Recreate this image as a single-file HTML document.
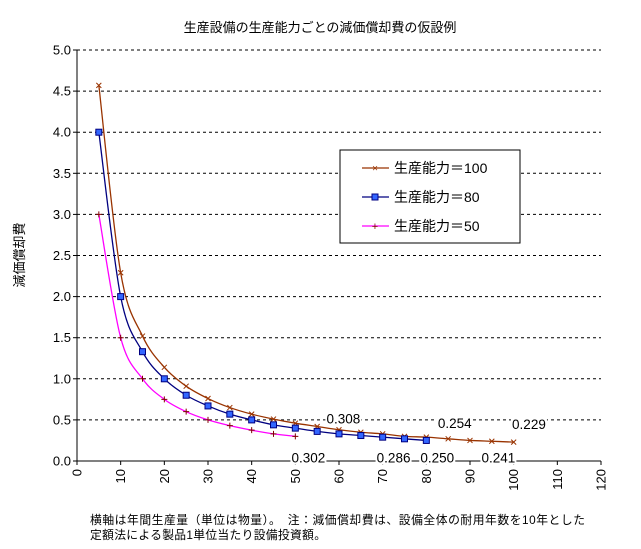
<!DOCTYPE html>
<html><head><meta charset="utf-8"><style>
body{margin:0;background:#fff;}
svg{display:block;font-family:"Liberation Sans","Noto Sans CJK JP",sans-serif;}
</style></head><body>
<svg id="chart" width="641" height="549" viewBox="0 0 641 549">
<text x="320" y="32" text-anchor="middle" font-size="13">生産設備の生産能力ごとの減価償却費の仮設例</text>
<g id="grid"></g>
<g id="axes"></g>
<g id="series"></g>
<g id="labels"></g>
<text transform="translate(24,255) rotate(-90)" text-anchor="middle" font-size="13">減価償却費</text>
<text x="90" y="524" font-size="11.8" textLength="495">横軸は年間生産量（単位は物量）。　注：減価償却費は、設備全体の耐用年数を10年とした</text>
<text x="90" y="539" font-size="11.8" textLength="236">定額法による製品1単位当たり設備投資額。</text>
<g>
<rect x="340" y="150" width="180" height="93" fill="#fff" stroke="#000" stroke-width="1"/>
<line x1="362" y1="168" x2="389" y2="168" stroke="#993300" stroke-width="1.3"/>
<text x="375" y="171.5" font-size="10" fill="#993300" text-anchor="middle">×</text>
<text x="394" y="173" font-size="14">生産能力＝100</text>
<line x1="362" y1="197" x2="389" y2="197" stroke="#000080" stroke-width="1.3"/>
<rect x="372" y="194" width="6" height="6" fill="#3366ff" stroke="#000080"/>
<text x="394" y="202" font-size="14">生産能力＝80</text>
<line x1="362" y1="226" x2="389" y2="226" stroke="#ff00ff" stroke-width="1.3"/>
<text x="375" y="230" font-size="11" fill="#800000" text-anchor="middle">+</text>
<text x="394" y="231" font-size="14">生産能力＝50</text>
</g>
</svg>
<script>
const xTicks=[0,10,20,30,40,50,60,70,80,90,100,110,120];
const yTicks=[0,0.5,1,1.5,2,2.5,3,3.5,4,4.5,5];
const x100=[5,10,15,20,25,30,35,40,45,50,55,60,65,70,75,80,85,90,95,100];
const v100=[4.57,2.29,1.52,1.14,0.91,0.76,0.65,0.57,0.51,0.46,0.42,0.38,0.35,0.33,0.30,0.29,0.27,0.25,0.24,0.23];
const x80=[5,10,15,20,25,30,35,40,45,50,55,60,65,70,75,80];
const v80=[4.0,2.0,1.33,1.0,0.8,0.67,0.57,0.5,0.44,0.4,0.36,0.33,0.31,0.29,0.27,0.25];
const x50=[5,10,15,20,25,30,35,40,45,50];
const v50=[3.0,1.5,1.0,0.75,0.6,0.5,0.43,0.375,0.33,0.30];
const labelText=["0.308","0.254","0.229","0.302","0.286","0.250","0.241"];
const labelX=[61,86.5,103.5,53,72.5,82.5,96.5];
const labelY=[0.52,0.46,0.45,0.04,0.04,0.04,0.04];

const X0=77,X1=601,Y0=461,Y1=50;
const sx=v=>X0+(X1-X0)*v/120;
const sy=v=>Y0-(Y0-Y1)*v/5;
const NS="http://www.w3.org/2000/svg";
function mk(tag,attrs,parent){const e=document.createElementNS(NS,tag);for(const k in attrs)e.setAttribute(k,attrs[k]);parent.appendChild(e);return e;}
const grid=document.getElementById('grid'),axes=document.getElementById('axes'),series=document.getElementById('series'),labels=document.getElementById('labels');
yTicks.forEach(t=>{
  if(t>0){const g=mk('line',{x1:X0,x2:X1,y1:sy(t),y2:sy(t),stroke:'#000','stroke-dasharray':'3,3','stroke-width':1},grid);
  
  }
  const tx=mk('text',{x:X0-6,y:sy(t)+4.5,'text-anchor':'end','font-size':13},axes);
  tx.textContent=t.toFixed(1);
  
  
  mk('line',{x1:X0-4,x2:X0,y1:sy(t),y2:sy(t),stroke:'#000'},axes);
});
mk('line',{x1:X0,x2:X0,y1:Y1,y2:Y0,stroke:'#000'},axes);
mk('line',{x1:X0,x2:X1,y1:Y0,y2:Y0,stroke:'#000'},axes);
xTicks.forEach(t=>{
  mk('line',{x1:sx(t),x2:sx(t),y1:Y0,y2:Y0+4,stroke:'#000'},axes);
  const tx=mk('text',{transform:`translate(${sx(t)+4.5},${Y0+8}) rotate(-90)`,'text-anchor':'end','font-size':13},axes);
  tx.textContent=t;
  
  
});
function smoothPath(pts){
  let d=`M${pts[0][0]},${pts[0][1]}`;
  for(let i=0;i<pts.length-1;i++){
    const p0=pts[i-1]||pts[i],p1=pts[i],p2=pts[i+1],p3=pts[i+2]||p2;
    const c1=[p1[0]+(p2[0]-p0[0])/6,p1[1]+(p2[1]-p0[1])/6];
    const c2=[p2[0]-(p3[0]-p1[0])/6,p2[1]-(p3[1]-p1[1])/6];
    d+=`C${c1[0]},${c1[1]} ${c2[0]},${c2[1]} ${p2[0]},${p2[1]}`;
  }
  return d;
}
function drawSeries(xs,vs,color,name,marker){
  const pts=xs.map((x,i)=>[sx(x),sy(vs[i])]);
  const p=mk('path',{d:smoothPath(pts),fill:'none',stroke:color,'stroke-width':1.3},series);
  
  
  xs.forEach((x,i)=>{
    const cx=sx(x),cy=sy(vs[i]);let m;
    if(marker==='sq'){m=mk('rect',{x:cx-3,y:cy-3,width:6,height:6,fill:'#3366ff',stroke:'#000080'},series);}
    else if(marker==='x'){m=mk('path',{d:`M${cx-2.5},${cy-2.5}L${cx+2.5},${cy+2.5}M${cx+2.5},${cy-2.5}L${cx-2.5},${cy+2.5}`,stroke:'#993300','stroke-width':1},series);}
    else{m=mk('path',{d:`M${cx-3},${cy}L${cx+3},${cy}M${cx},${cy-3}L${cx},${cy+3}`,stroke:'#800000','stroke-width':1},series);}
    
    
  });
}
drawSeries(x50,v50,'#ff00ff','series-cap50','plus');
drawSeries(x100,v100,'#993300','series-cap100','x');
drawSeries(x80,v80,'#000080','series-cap80','sq');
labelText.forEach((t,i)=>{
  const cx=sx(labelX[i]),cy=sy(labelY[i]);
  mk('rect',{x:cx-18,y:cy-8,width:36,height:15,fill:'#fff'},labels);
  const tx=mk('text',{x:cx,y:cy+5,'text-anchor':'middle','font-size':13.5},labels);
  tx.textContent=t;
  
  
});
</script>
</body></html>
